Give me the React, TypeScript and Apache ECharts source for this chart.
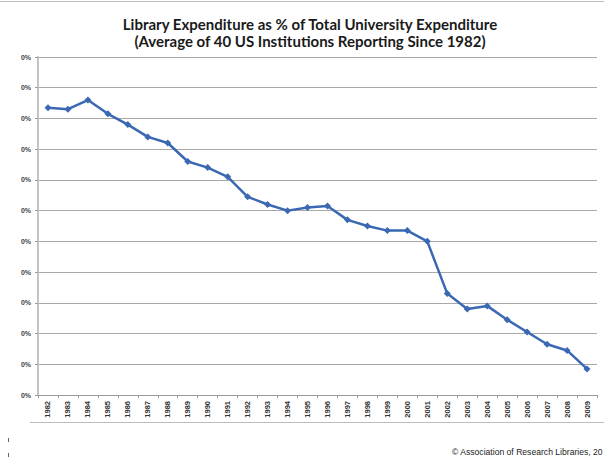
import React, { useEffect, useRef } from "react";
import * as echarts from "echarts";

const years: string[] = [
  "1982", "1983", "1984", "1985", "1986", "1987", "1988", "1989", "1990", "1991",
  "1992", "1993", "1994", "1995", "1996", "1997", "1998", "1999", "2000", "2001",
  "2002", "2003", "2004", "2005", "2006", "2007", "2008", "2009",
];

const libraryShare: number[] = [
  3.47, 3.46, 3.52, 3.43, 3.36, 3.28, 3.24, 3.12, 3.08, 3.02,
  2.89, 2.84, 2.80, 2.82, 2.83, 2.74, 2.70, 2.67, 2.67, 2.60,
  2.26, 2.16, 2.18, 2.09, 2.01, 1.93, 1.89, 1.77,
];

const titleLines: string[] = [
  "Library Expenditure as % of Total University Expenditure",
  "(Average of 40 US Institutions Reporting Since 1982)",
];

const credit = "© Association of Research Libraries, 20";

export default function App() {
  const ref = useRef<HTMLDivElement>(null);

  useEffect(() => {
    if (!ref.current) return;
    const chart = echarts.init(ref.current, null, { renderer: "svg" });
    chart.setOption({
      animation: false,
      backgroundColor: "#ffffff",
      title: {
        text: titleLines.join("\n"),
        left: 305,
        textAlign: "center",
        top: 10,
        textStyle: {
          fontFamily: "Lato",
          fontWeight: "bold",
          fontSize: 15,
          lineHeight: 17,
          color: "#1a1a1a",
        },
      },
      grid: { left: 38, right: 7, top: 57, bottom: 65, containLabel: false },
      xAxis: {
        type: "category",
        data: years,
        boundaryGap: true,
        axisLine: { lineStyle: { color: "#9a9a9a", width: 1 } },
        axisTick: { show: true, length: 3, lineStyle: { color: "#9a9a9a" }, alignWithLabel: false },
        axisLabel: {
          rotate: 90,
          interval: 0,
          fontSize: 7.5,
          fontWeight: "bold",
          fontFamily: "Liberation Sans",
          color: "#333",
          margin: 6,
        },
      },
      yAxis: {
        type: "value",
        min: 1.6,
        max: 3.8,
        interval: 0.2,
        axisLine: { show: true, lineStyle: { color: "#c4c4c4", width: 2 } },
        axisTick: { show: true, length: 3, lineStyle: { color: "#9a9a9a" } },
        axisLabel: {
          formatter: () => "0%",
          fontSize: 7,
          fontWeight: "bold",
          fontFamily: "Liberation Sans",
          color: "#444",
          margin: 7,
        },
        splitLine: { show: true, lineStyle: { color: "#a8a8a8", width: 1 } },
      },
      series: [
        {
          type: "line",
          data: libraryShare,
          symbol: "diamond",
          symbolSize: 7,
          lineStyle: { color: "#3b68b3", width: 2.5 },
          itemStyle: { color: "#3b68b3" },
        },
      ],
      graphic: [
        { type: "line", shape: { x1: 0, y1: 1.5, x2: 604, y2: 1.5 }, style: { stroke: "#bdbdbd", lineWidth: 1 } },
        { type: "line", shape: { x1: 30, y1: 422.5, x2: 604, y2: 422.5 }, style: { stroke: "#bdbdbd", lineWidth: 1 } },
        { type: "line", shape: { x1: 8.5, y1: 438, x2: 8.5, y2: 442 }, style: { stroke: "#666", lineWidth: 1 } },
        { type: "line", shape: { x1: 8.5, y1: 453, x2: 8.5, y2: 457 }, style: { stroke: "#666", lineWidth: 1 } },
        {
          type: "text",
          x: 452,
          y: 452,
          style: {
            text: credit,
            fontSize: 8.6,
            fontFamily: "Liberation Sans",
            fill: "#222",
            textVerticalAlign: "middle",
          },
        },
      ],
    });
    return () => chart.dispose();
  }, []);

  return (
    <div
      ref={ref}
      style={{ position: "fixed", left: 0, top: 0, width: 604, height: 460, background: "#fff" }}
    />
  );
}
